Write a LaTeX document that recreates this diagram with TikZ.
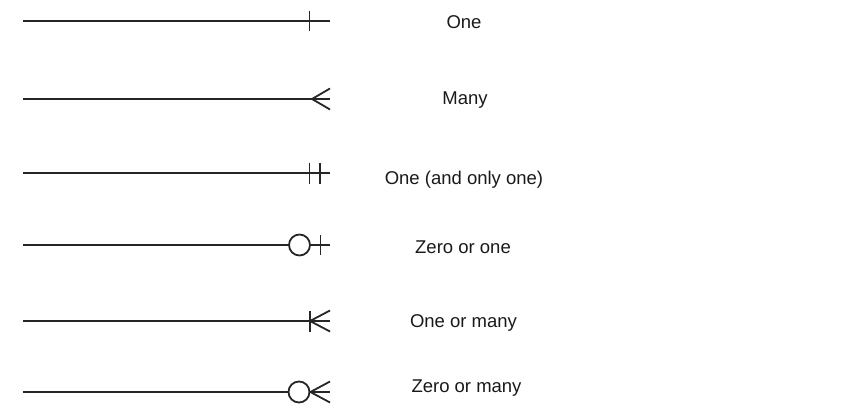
\documentclass[tikz,border=0pt]{standalone}
\usepackage{fontspec}
\setmainfont{Liberation Sans}
\begin{document}
\begin{tikzpicture}[
    x=1pt, y=-1pt,
    rel/.style={draw=black!85, line width=1.8pt},
    ring/.style={circle, draw=black!85, line width=1.8pt, minimum size=21pt, inner sep=0pt},
    cardtext/.style={font=\fontsize{18.5}{21}\selectfont, text=black!90, anchor=center}
]
    \useasboundingbox (0,0) rectangle (848,409);

    % One
    \coordinate (s1) at (23,21);
    \coordinate (e1) at (330,21);
    \node[cardtext] (t1) at (464,22) {One};
    \draw[rel] (s1) -- (e1);
    \draw[rel] ([xshift=-20.5pt,yshift=10pt]e1) -- ([xshift=-20.5pt,yshift=-10pt]e1);

    % Many
    \coordinate (s2) at (23,99);
    \coordinate (e2) at (330,99);
    \coordinate (v2) at (312,99);
    \node[cardtext] (t2) at (465,100) {Many};
    \draw[rel] (s2) -- (e2);
    \draw[rel] ([yshift=10.5pt]e2) -- (v2) -- ([yshift=-10.5pt]e2);

    % One (and only one)
    \coordinate (s3) at (23,173);
    \coordinate (e3) at (330,173);
    \node[cardtext] (t3) at (464,179.5) {One (and only one)};
    \draw[rel] (s3) -- (e3);
    \draw[rel] ([xshift=-20.5pt,yshift=10.5pt]e3) -- ([xshift=-20.5pt,yshift=-10.5pt]e3);
    \draw[rel] ([xshift=-10pt,yshift=10.5pt]e3) -- ([xshift=-10pt,yshift=-10.5pt]e3);

    % Zero or one
    \coordinate (s4) at (23,245);
    \coordinate (e4) at (330,245);
    \node[ring] (c4) at (299.5,245) {};
    \node[cardtext] (t4) at (463,247.5) {Zero or one};
    \draw[rel] (s4) -- (c4.west);
    \draw[rel] (c4.east) -- (e4);
    \draw[rel] ([xshift=-9.5pt,yshift=10pt]e4) -- ([xshift=-9.5pt,yshift=-10pt]e4);

    % One or many
    \coordinate (s5) at (23,321);
    \coordinate (e5) at (330,321);
    \coordinate (v5) at (310,321);
    \node[cardtext] (t5) at (463.5,323) {One or many};
    \draw[rel] (s5) -- (e5);
    \draw[rel] ([yshift=10.5pt]v5) -- ([yshift=-10.5pt]v5);
    \draw[rel] ([yshift=10.5pt]e5) -- (v5) -- ([yshift=-10.5pt]e5);

    % Zero or many
    \coordinate (s6) at (23,392);
    \coordinate (e6) at (330,392);
    \node[ring] (c6) at (299,392) {};
    \node[cardtext] (t6) at (466.5,388) {Zero or many};
    \draw[rel] (s6) -- (c6.west);
    \draw[rel] (c6.east) -- (e6);
    \draw[rel] ([yshift=10.5pt]e6) -- (c6.east) -- ([yshift=-10.5pt]e6);
\end{tikzpicture}
\end{document}
